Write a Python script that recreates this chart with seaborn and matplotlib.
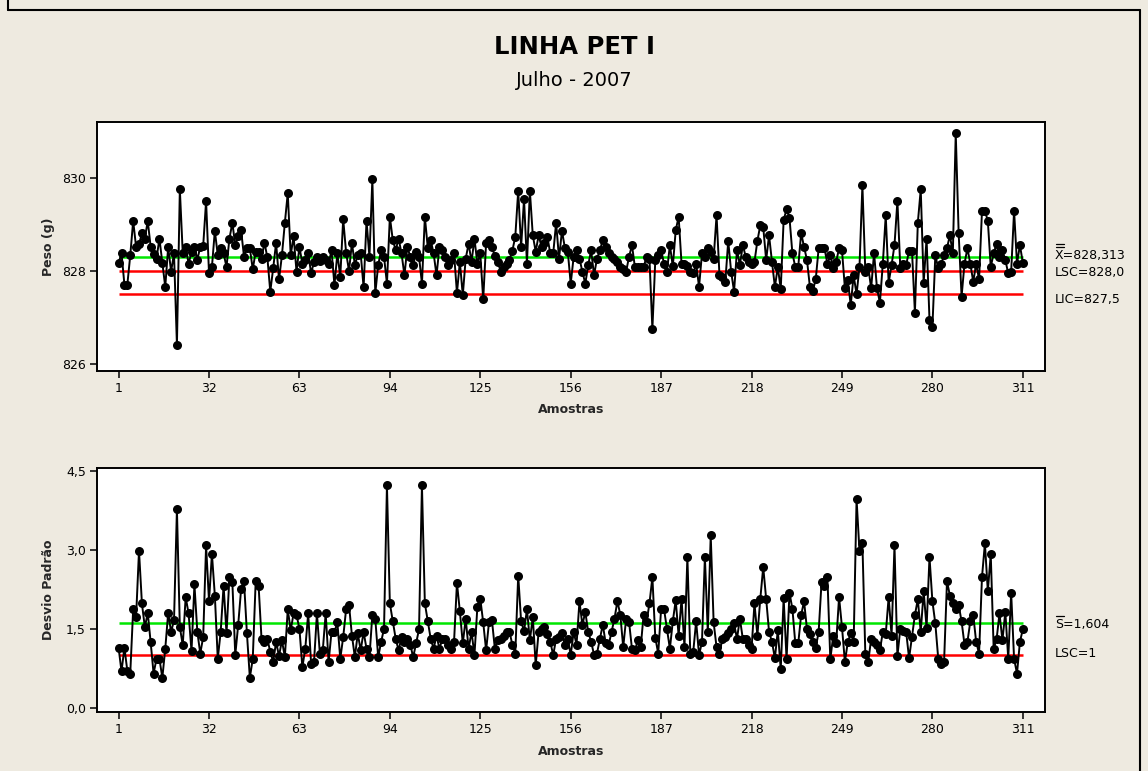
import matplotlib
matplotlib.use("Agg")
import matplotlib.pyplot as plt
import seaborn as sns
import numpy as np
import pandas as pd
from matplotlib.transforms import blended_transform_factory, offset_copy
from matplotlib.lines import Line2D

sns.set_style("ticks")
plt.rcParams["font.family"] = ["DejaVu Sans"]

# ---------------- data ----------------
samples = list(range(1, 312))
peso = [
    828.17, 828.39, 827.71, 827.71, 828.34, 829.08, 828.52, 828.58, 828.81, 828.70,
    829.08, 828.52, 828.36, 828.27, 828.70, 828.18, 827.66, 828.52, 827.99, 828.38,
    826.41, 829.76, 828.38, 828.52, 828.16, 828.41, 828.52, 828.25, 828.52, 828.54,
    829.51, 827.95, 828.09, 828.87, 828.34, 828.50, 828.38, 828.09, 828.70, 829.04,
    828.56, 828.75, 828.88, 828.31, 828.49, 828.49, 828.04, 828.42, 828.42, 828.27,
    828.61, 828.30, 827.56, 828.06, 828.61, 827.82, 828.34, 829.04, 829.68, 828.34,
    828.75, 827.99, 828.52, 828.16, 828.25, 828.40, 827.95, 828.20, 828.31, 828.22,
    828.31, 828.25, 828.16, 828.45, 827.70, 828.38, 827.88, 829.12, 828.40, 828.00,
    828.61, 828.13, 828.35, 828.38, 827.65, 829.08, 828.31, 829.98, 827.52, 828.13,
    828.45, 828.31, 827.73, 829.17, 828.67, 828.45, 828.70, 828.38, 827.91, 828.52,
    828.31, 828.13, 828.42, 828.31, 827.73, 829.17, 828.50, 828.67, 828.38, 827.91,
    828.52, 828.45, 828.30, 828.13, 828.25, 828.38, 827.53, 828.20, 827.48, 828.27,
    828.59, 828.20, 828.70, 828.16, 828.38, 827.39, 828.61, 828.66, 828.52, 828.32,
    828.20, 827.99, 828.09, 828.16, 828.25, 828.44, 828.74, 829.73, 828.52, 829.55,
    828.16, 829.73, 828.77, 828.42, 828.77, 828.52, 828.60, 828.74, 828.38, 828.38,
    829.04, 828.27, 828.87, 828.50, 828.42, 827.73, 828.30, 828.45, 828.27, 827.99,
    827.73, 828.13, 828.45, 827.91, 828.27, 828.45, 828.67, 828.52, 828.38, 828.30,
    828.27, 828.20, 828.09, 828.05, 827.99, 828.31, 828.56, 828.09, 828.09, 828.09,
    828.09, 828.31, 828.27, 826.75, 828.24, 828.35, 828.45, 828.16, 827.99, 828.56,
    828.10, 828.88, 829.17, 828.16, 828.16, 828.10, 827.99, 827.95, 828.16, 827.66,
    828.38, 828.31, 828.49, 828.42, 828.27, 829.20, 827.91, 827.88, 827.77, 828.65,
    827.99, 827.56, 828.45, 828.13, 828.56, 828.31, 828.20, 828.16, 828.20, 828.65,
    828.99, 828.95, 828.24, 828.77, 828.20, 827.66, 828.09, 827.61, 829.10, 829.33,
    829.15, 828.38, 828.09, 828.09, 828.82, 828.52, 828.24, 827.66, 827.58, 827.82,
    828.49, 828.49, 828.49, 828.16, 828.34, 828.06, 828.20, 828.49, 828.45, 827.63,
    827.80, 827.27, 827.91, 827.50, 828.09, 829.85, 827.99, 828.09, 827.63, 828.39,
    827.63, 827.32, 828.16, 829.20, 827.75, 828.13, 828.56, 829.51, 828.06, 828.16,
    828.13, 828.44, 828.44, 827.10, 829.04, 829.76, 827.75, 828.70, 826.95, 826.80,
    828.34, 828.06, 828.16, 828.34, 828.50, 828.77, 828.38, 830.97, 828.82, 827.45,
    828.16, 828.49, 828.16, 827.77, 828.16, 827.82, 829.30, 829.30, 829.08, 828.09,
    828.38, 828.59, 828.31, 828.45, 828.24, 827.95, 827.99, 829.30, 828.16, 828.56,
    828.18,
]
desvio = [
    1.14, 0.69, 1.14, 0.70, 0.65, 1.87, 1.72, 2.98, 1.98, 1.53,
    1.80, 1.24, 0.65, 0.93, 0.93, 0.57, 1.12, 1.80, 1.44, 1.66,
    3.77, 1.53, 1.19, 2.10, 1.79, 1.07, 2.34, 1.44, 1.03, 1.34,
    3.08, 2.02, 2.92, 2.13, 0.93, 1.44, 2.32, 1.41, 2.48, 2.39,
    1.00, 1.57, 2.25, 2.40, 1.41, 0.57, 0.93, 2.40, 2.32, 1.31,
    1.25, 1.31, 1.06, 0.87, 1.25, 0.98, 1.28, 0.96, 1.87, 1.47,
    1.79, 1.76, 1.50, 0.77, 1.12, 1.79, 0.84, 0.87, 1.79, 1.03,
    1.09, 1.79, 0.87, 1.44, 1.44, 1.62, 0.93, 1.34, 1.87, 1.95,
    1.37, 0.96, 1.41, 1.09, 1.44, 1.12, 0.96, 1.77, 1.69, 0.96,
    1.25, 1.50, 4.22, 1.98, 1.64, 1.31, 1.09, 1.34, 1.25, 1.31,
    1.20, 0.96, 1.22, 1.49, 4.22, 1.98, 1.64, 1.31, 1.12, 1.37,
    1.12, 1.31, 1.31, 1.20, 1.12, 1.25, 2.37, 1.83, 1.22, 1.69,
    1.12, 1.44, 1.00, 1.91, 2.07, 1.62, 1.09, 1.63, 1.66, 1.12,
    1.28, 1.30, 1.37, 1.44, 1.44, 1.20, 1.03, 2.51, 1.64, 1.45,
    1.87, 1.28, 1.72, 0.81, 1.44, 1.50, 1.53, 1.40, 1.25, 1.00,
    1.31, 1.35, 1.41, 1.19, 1.31, 1.00, 1.44, 1.20, 2.02, 1.57,
    1.82, 1.44, 1.25, 1.01, 1.03, 1.30, 1.58, 1.22, 1.19, 1.44,
    1.69, 2.02, 1.77, 1.15, 1.69, 1.63, 1.12, 1.09, 1.28, 1.15,
    1.77, 1.63, 1.98, 2.48, 1.33, 1.03, 1.88, 1.87, 1.50, 1.12,
    1.64, 2.04, 1.37, 2.07, 1.15, 2.86, 1.03, 1.06, 1.64, 1.00,
    1.25, 2.86, 1.44, 3.27, 1.62, 1.15, 1.03, 1.31, 1.34, 1.42,
    1.50, 1.60, 1.31, 1.69, 1.31, 1.31, 1.20, 1.12, 1.98, 1.37,
    2.07, 2.67, 2.07, 1.44, 1.25, 0.94, 1.47, 0.73, 2.08, 0.92,
    2.18, 1.88, 1.22, 1.22, 1.76, 2.02, 1.49, 1.40, 1.25, 1.14,
    1.44, 2.39, 2.32, 2.48, 0.92, 1.37, 1.22, 2.10, 1.53, 0.87,
    1.25, 1.41, 1.24, 3.96, 2.97, 3.12, 1.03, 0.87, 1.31, 1.25,
    1.20, 1.09, 1.44, 1.40, 2.10, 1.37, 3.08, 0.98, 1.50, 1.45,
    1.44, 0.94, 1.35, 1.76, 2.06, 1.44, 2.21, 1.52, 2.86, 2.02,
    1.60, 0.93, 0.84, 0.87, 2.40, 2.13, 1.98, 1.87, 1.95, 1.64,
    1.20, 1.25, 1.64, 1.76, 1.25, 1.03, 2.48, 3.12, 2.21, 2.91,
    1.12, 1.30, 1.79, 1.28, 1.82, 0.93, 2.18, 0.93, 0.65, 1.25,
    1.49,
]
x_ticks = [1, 32, 63, 94, 125, 156, 187, 218, 249, 280, 311]
peso_ticks = [826, 828, 830]
peso_tick_labels = ["826", "828", "830"]
desvio_ticks = [0.0, 1.5, 3.0, 4.5]
desvio_tick_labels = ["0,0", "1,5", "3,0", "4,5"]

peso_xbar, peso_lsc, peso_lic = 828.313, 828.0, 827.5
s_bar, s_lsc = 1.604, 1.0

title = "LINHA PET I"
subtitle = "Julho - 2007"

# ---------------- style ----------------
BG = "#EEEAE0"
GREEN = "#00E600"
RED = "#FF0000"
W, H = 1148, 771

df = pd.DataFrame({"Amostra": samples, "Peso": peso, "Desvio": desvio})

fig = plt.figure(figsize=(W / 100, H / 100), dpi=100)
fig.patch.set_facecolor(BG)

# outer frame
for xs, ys in [([8, 8], [0, 10]), ([8, 1140], [10, 10]), ([1140, 1140], [10, H])]:
    fig.add_artist(Line2D([x / W for x in xs], [1 - y / H for y in ys],
                          color="black", lw=1.5, transform=fig.transFigure))

ax1 = fig.add_axes([97 / W, 1 - 371 / H, 948 / W, 249 / H])
ax2 = fig.add_axes([97 / W, 1 - 712 / H, 948 / W, 244 / H])

YLAB_X = -(97 - 55) / 948


def style_axes(ax):
    ax.set_facecolor("white")
    for sp in ax.spines.values():
        sp.set_color("black")
        sp.set_linewidth(1.4)
        sp.set_visible(True)
    ax.tick_params(direction="out", length=5, width=1.1, colors="black",
                   labelsize=9, pad=3)
    ax.grid(False)
    ax.set_xlim(-6.4, 318.6)
    ax.set_xticks(x_ticks)
    ax.set_xticklabels([str(t) for t in x_ticks])


style_axes(ax1)
style_axes(ax2)

# ---- top chart: Peso ----
ax1.hlines([peso_xbar], 1, 311, color=GREEN, lw=1.8, zorder=1)
ax1.hlines([peso_lsc, peso_lic], 1, 311, color=RED, lw=1.8, zorder=1)
sns.lineplot(data=df, x="Amostra", y="Peso", ax=ax1, color="black", lw=1.4,
             marker="o", markersize=6.5, markeredgewidth=0, estimator=None,
             sort=False, zorder=3)
ax1.set_ylim(825.85, 831.21)
ax1.set_yticks(peso_ticks)
ax1.set_yticklabels(peso_tick_labels)
ax1.set_xlabel("Amostras", fontweight="bold", fontsize=9)
ax1.set_ylabel("Peso (g)", fontweight="bold", fontsize=9)
ax1.xaxis.set_label_coords(0.5, -(403 - 371) / 249)
ax1.yaxis.set_label_coords(YLAB_X, 0.5)

# ---- bottom chart: Desvio Padrao ----
ax2.hlines([s_bar], 1, 311, color=GREEN, lw=1.8, zorder=1)
ax2.hlines([s_lsc], 1, 311, color=RED, lw=1.8, zorder=1)
sns.lineplot(data=df, x="Amostra", y="Desvio", ax=ax2, color="black", lw=1.4,
             marker="o", markersize=6.5, markeredgewidth=0, estimator=None,
             sort=False, zorder=3)
ax2.set_ylim(-0.08, 4.55)
ax2.set_yticks(desvio_ticks)
ax2.set_yticklabels(desvio_tick_labels)
ax2.set_xlabel("Amostras", fontweight="bold", fontsize=9)
ax2.set_ylabel("Desvio Padrão", fontweight="bold", fontsize=9)
ax2.xaxis.set_label_coords(0.5, -(745 - 712) / 244)
ax2.yaxis.set_label_coords(YLAB_X, 0.5)

# ---- limit labels on the right ----
lx = (1055 - 97) / 948
bar_w = 8 / 948


def side_label(ax, yval, text, dy_px, bars=()):
    base = blended_transform_factory(ax.transAxes, ax.transData)
    tr = offset_copy(base, fig=fig, x=0, y=dy_px, units="dots")
    ax.text(lx, yval, text, transform=tr, ha="left", va="center",
            fontsize=9, color="black", clip_on=False)
    for bdy in bars:
        trb = offset_copy(base, fig=fig, x=0.5, y=dy_px + bdy, units="dots")
        ax.add_line(Line2D([lx, lx + bar_w], [yval, yval], transform=trb,
                           color="black", lw=0.9, clip_on=False))


side_label(ax1, peso_xbar, "X=828,313", 1.5, bars=(8.5, 11.5))
side_label(ax1, peso_lsc, "LSC=828,0", -1.5)
side_label(ax1, peso_lic, "LIC=827,5", -5)
side_label(ax2, s_bar, "S=1,604", -1, bars=(8.5,))
side_label(ax2, s_lsc, "LSC=1", 1.5)

# ---- titles ----
fig.text(0.5, 1 - 47 / H, title, ha="center", va="center", fontsize=17.5,
         fontweight="bold", color="black")
fig.text(0.5, 1 - 80 / H, subtitle, ha="center", va="center", fontsize=14,
         color="black")

fig.savefig("out.png", dpi=100, facecolor=BG)
